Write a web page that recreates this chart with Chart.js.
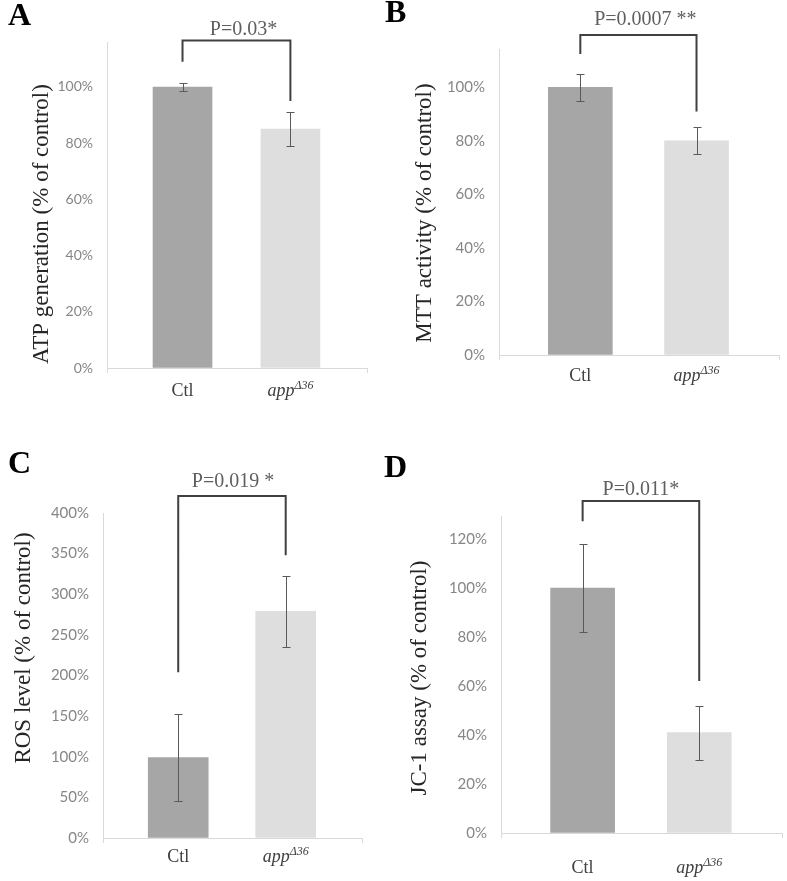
<!DOCTYPE html>
<html>
<head>
<meta charset="utf-8">
<script src="https://cdn.jsdelivr.net/npm/chart.js@4.4.1/dist/chart.umd.min.js"></script>
<style>
  html, body { margin: 0; padding: 0; background: #fff; }
  body { width: 787px; height: 881px; position: relative; overflow: hidden; }
  canvas { position: absolute; }
</style>
</head>
<body>
<canvas id="pA" width="380" height="440" style="left:0;top:0"></canvas>
<canvas id="pB" width="407" height="440" style="left:380px;top:0"></canvas>
<canvas id="pC" width="380" height="441" style="left:0;top:440px"></canvas>
<canvas id="pD" width="407" height="441" style="left:380px;top:440px"></canvas>
<script>
// groups on the x axis (the second one gets a superscript)
const categories = ['Ctl', 'app'];
const superscripts = ['', 'Δ36'];

// means and error bars, % of control
const atpMean = [100, 85];
const atpErr = [1.5, 6];
const mttMean = [100, 80];
const mttErr = [5, 5];
const rosMean = [99, 279];
const rosErr = [54, 44];
const jc1Mean = [100, 41];
const jc1Err = [18, 11];

// significance brackets: [top, left leg end, right leg end] in axis units
const atpBracket = [116.5, 109, 95];
const mttBracket = [119.5, 112.4, 91];
const rosBracket = [421, 204, 348];
const jc1Bracket = [135.5, 127.3, 62];

const pLabels = ['P=0.03*', 'P=0.0007 **', 'P=0.019 *', 'P=0.011*'];
const yTitles = ['ATP generation (% of control)', 'MTT activity (% of control)',
                 'ROS level (% of control)', 'JC-1 assay (% of control)'];
const letters = ['A', 'B', 'C', 'D'];

// y axis ranges / tick steps
const yMax = [116, 114.3, 400, 129.4];
const yStep = [20, 20, 50, 20];

const barColors = ['#a6a6a6', '#dedede'];

const decor = {
  id: 'decor',
  afterDraw(chart, args, o) {
    const { ctx, chartArea: a, scales: { x, y } } = chart;
    ctx.save();

    // panel letter
    ctx.fillStyle = '#000';
    ctx.font = 'bold 32px "Liberation Serif"';
    ctx.textAlign = 'left';
    ctx.textBaseline = 'alphabetic';
    ctx.fillText(o.letter, o.letterX, o.letterY);

    // y title
    ctx.save();
    ctx.translate(o.titleX, o.titleY);
    ctx.rotate(-Math.PI / 2);
    ctx.font = '23px "Liberation Serif"';
    ctx.fillStyle = '#262626';
    ctx.textAlign = 'center';
    ctx.textBaseline = 'middle';
    ctx.fillText(o.title, 0, 0);
    ctx.restore();

    // error bars
    ctx.strokeStyle = '#595959';
    ctx.lineWidth = 1;
    o.mean.forEach((m, i) => {
      const px = Math.round(x.getPixelForValue(i)) + 0.5;
      const t = Math.round(y.getPixelForValue(m + o.err[i])) + 0.5;
      const b = Math.round(y.getPixelForValue(m - o.err[i])) + 0.5;
      ctx.beginPath();
      ctx.moveTo(px, t); ctx.lineTo(px, b);
      ctx.moveTo(px - 4, t); ctx.lineTo(px + 4, t);
      ctx.moveTo(px - 4, b); ctx.lineTo(px + 4, b);
      ctx.stroke();
    });

    // bracket
    const [top, l, r] = o.bracket;
    const x0 = x.getPixelForValue(0), x1 = x.getPixelForValue(1);
    const yt = y.getPixelForValue(top);
    ctx.strokeStyle = '#404040';
    ctx.lineWidth = 2;
    ctx.beginPath();
    ctx.moveTo(x0, y.getPixelForValue(l));
    ctx.lineTo(x0, yt);
    ctx.lineTo(x1, yt);
    ctx.lineTo(x1, y.getPixelForValue(r));
    ctx.stroke();

    // p value
    ctx.font = '20px "Liberation Serif"';
    ctx.fillStyle = '#5f5f5f';
    ctx.textAlign = 'center';
    ctx.textBaseline = 'alphabetic';
    ctx.fillText(o.p, (x0 + x1) / 2 + o.pDx, yt - o.pGap);

    // category labels
    ctx.fillStyle = '#404040';
    ctx.textAlign = 'left';
    categories.forEach((c, i) => {
      const px = x.getPixelForValue(i);
      const base = a.bottom + o.labelGap;
      if (!superscripts[i]) {
        ctx.font = '18px "Liberation Serif"';
        const w = ctx.measureText(c).width;
        ctx.fillText(c, px - w / 2, base);
      } else {
        ctx.font = 'italic 18px "Liberation Serif"';
        const w1 = ctx.measureText(c).width;
        ctx.font = 'italic 12px "Liberation Serif"';
        const w2 = ctx.measureText(superscripts[i]).width;
        const sx = px - (w1 + w2) / 2;
        ctx.font = 'italic 18px "Liberation Serif"';
        ctx.fillText(c, sx, base);
        ctx.font = 'italic 12px "Liberation Serif"';
        ctx.fillText(superscripts[i], sx + w1, base - 7);
      }
    });
    ctx.restore();
  }
};

function makePanel(id, k, mean, err, bracket, box) {
  new Chart(document.getElementById(id), {
    type: 'bar',
    data: {
      datasets: [{
        data: mean.map((v, i) => ({ x: i, y: v })),
        backgroundColor: barColors,
        borderWidth: 0,
        barThickness: box.bar
      }]
    },
    options: {
      responsive: false,
      animation: false,
      layout: { padding: { left: 0, top: box.top, right: box.right, bottom: box.bottom } },
      scales: {
        x: {
          type: 'linear',
          offset: false,
          min: -0.7,
          max: 1.71,
          afterBuildTicks: (axis) => { axis.ticks = [{ value: axis.min }, { value: axis.max }]; },
          afterFit: (scale) => { scale.height = 0; },
          ticks: { display: false },
          grid: { offset: false, drawOnChartArea: false, drawTicks: true, tickLength: 5, color: '#d9d9d9' },
          border: { color: '#d9d9d9' }
        },
        y: {
          min: 0,
          max: yMax[k],
          afterFit: (scale) => { scale.width = box.left; },
          ticks: {
            stepSize: yStep[k],
            includeBounds: false,
            padding: 14,
            color: '#868686',
            font: { family: 'Lato', size: box.tickSize },
            callback: (v) => v + '%'
          },
          grid: { drawOnChartArea: false, drawTicks: false },
          border: { color: '#d9d9d9' }
        }
      },
      plugins: {
        legend: { display: false },
        tooltip: { enabled: false },
        decor: {
          letter: letters[k], letterX: box.lx, letterY: box.ly,
          title: yTitles[k], titleX: box.tx, titleY: box.ty,
          mean: mean, err: err, bracket: bracket,
          p: pLabels[k], pDx: box.pDx, pGap: box.pGap,
          labelGap: box.labelGap
        }
      }
    },
    plugins: [decor]
  });
}

makePanel('pA', 0, atpMean, atpErr, atpBracket,
  { left: 107, top: 42, right: 13, bottom: 72, bar: 59, tickSize: 14,
    lx: 8, ly: 25, tx: 41.5, ty: 224, pDx: 7, pGap: 6, labelGap: 28 });
makePanel('pB', 1, mttMean, mttErr, mttBracket,
  { left: 119, top: 49, right: 8, bottom: 85, bar: 64, tickSize: 15,
    lx: 5, ly: 22, tx: 44.5, ty: 213, pDx: 7, pGap: 10, labelGap: 26 });
makePanel('pC', 2, rosMean, rosErr, rosBracket,
  { left: 103, top: 73, right: 18, bottom: 43, bar: 60, tickSize: 15,
    lx: 8, ly: 33, tx: 23.5, ty: 208, pDx: 1, pGap: 9, labelGap: 24 });
makePanel('pD', 3, jc1Mean, jc1Err, jc1Bracket,
  { left: 121, top: 76, right: 5, bottom: 48, bar: 64, tickSize: 15,
    lx: 4, ly: 37, tx: 39.5, ty: 238, pDx: 0, pGap: 6, labelGap: 40 });
</script>
</body>
</html>
